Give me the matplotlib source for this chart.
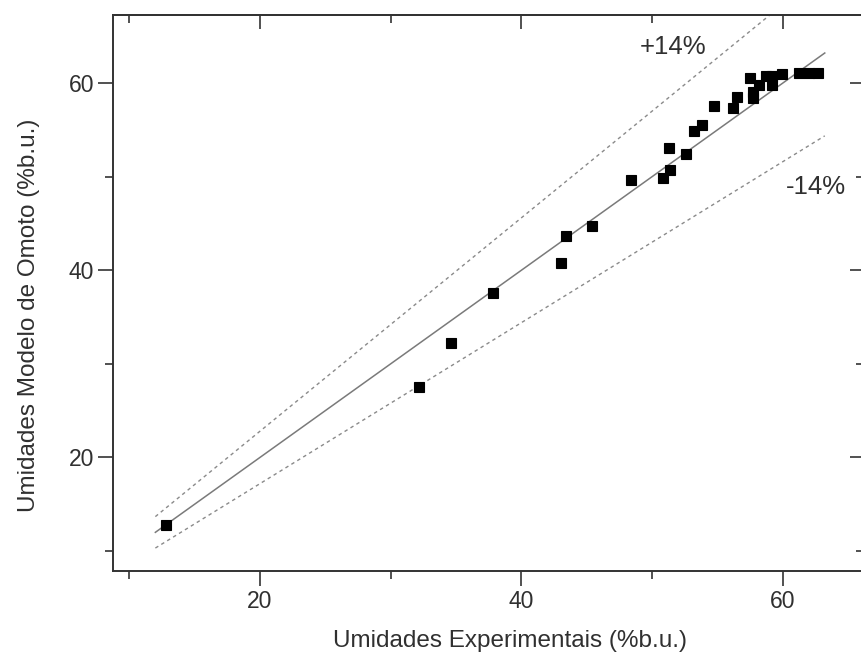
import matplotlib
matplotlib.use("Agg")
import matplotlib.pyplot as plt
from matplotlib.ticker import MultipleLocator

# moisture values (%b.u.)
exp_vals = [12.8, 32.2, 34.6, 37.8, 43.0, 43.4, 45.4, 48.4, 50.8, 51.4,
            51.3, 52.6, 53.2, 53.8, 54.7, 56.2, 56.5, 57.7, 57.7, 57.5,
            58.2, 58.7, 59.2, 59.2, 59.9, 61.2, 62.0, 62.7]
model_vals = [12.8, 27.5, 32.2, 37.6, 40.8, 43.7, 44.7, 49.6, 49.9, 50.7,
              53.1, 52.4, 54.9, 55.5, 57.5, 57.3, 58.5, 58.4, 59.0, 60.5,
              59.8, 60.7, 59.8, 60.7, 61.0, 61.1, 61.1, 61.1]

line_x = [12.0, 63.2]
dev = 0.14
upper_y = [v * (1 + dev) for v in line_x]
lower_y = [v * (1 - dev) for v in line_x]

text_col = "#303030"
plt.rcParams["font.family"] = ["Liberation Sans", "DejaVu Sans"]

fig = plt.figure(figsize=(8.61, 6.61), dpi=100)
ax = fig.add_axes([0.13124, 0.13616, 0.87224, 0.84115])

ax.plot(line_x, line_x, color="#7a7a7a", lw=1.1)
ax.plot(line_x, upper_y, color="#8a8a8a", lw=1.0, linestyle=(0, (2.5, 2.5)))
ax.plot(line_x, lower_y, color="#8a8a8a", lw=1.0, linestyle=(0, (2.5, 2.5)))
ax.plot(exp_vals, model_vals, "s", color="black", ms=7.2, mew=0.8)

ax.text(51.6, 63.85, "+14%", fontsize=18.5, color=text_col, ha="center", va="center")
ax.text(62.5, 48.9, "-14%", fontsize=18.5, color=text_col, ha="center", va="center")

ax.set_xlim(8.76, 66.2)
ax.set_ylim(7.87, 67.26)

ax.xaxis.set_major_locator(MultipleLocator(20))
ax.xaxis.set_minor_locator(MultipleLocator(10))
ax.yaxis.set_major_locator(MultipleLocator(20))
ax.yaxis.set_minor_locator(MultipleLocator(10))

ax.tick_params(which="both", direction="out", top=False, right=False,
               color="#333333", width=1.2)
ax.tick_params(which="major", length=11, labelsize=16.5, labelcolor=text_col)
ax.tick_params(which="minor", length=6)
ax.tick_params(axis="x", pad=3)
ax.tick_params(axis="y", pad=2.5)

for side in ["top", "bottom", "left", "right"]:
    ax.spines[side].set_color("#333333")
    ax.spines[side].set_linewidth(1.4)

# top and right ticks point inward, with no labels
top = ax.secondary_xaxis("top")
right = ax.secondary_yaxis("right")
for sec, axis in [(top, top.xaxis), (right, right.yaxis)]:
    axis.set_major_locator(MultipleLocator(20))
    axis.set_minor_locator(MultipleLocator(10))
    sec.tick_params(which="both", direction="in", color="#333333", width=1.2,
                    labeltop=False, labelright=False)
    sec.tick_params(which="major", length=10)
    sec.tick_params(which="minor", length=6)
    for s in sec.spines.values():
        s.set_color("#333333")
        s.set_linewidth(1.4)

ax.set_xlabel("Umidades Experimentais (%b.u.)", fontsize=17.5, color=text_col)
ax.set_ylabel("Umidades Modelo de Omoto (%b.u.)", fontsize=17.5, color=text_col)
ax.xaxis.set_label_coords(0.529, -0.106)
ax.yaxis.set_label_coords(-0.097, 0.459)

fig.savefig("out.png", dpi=100)
